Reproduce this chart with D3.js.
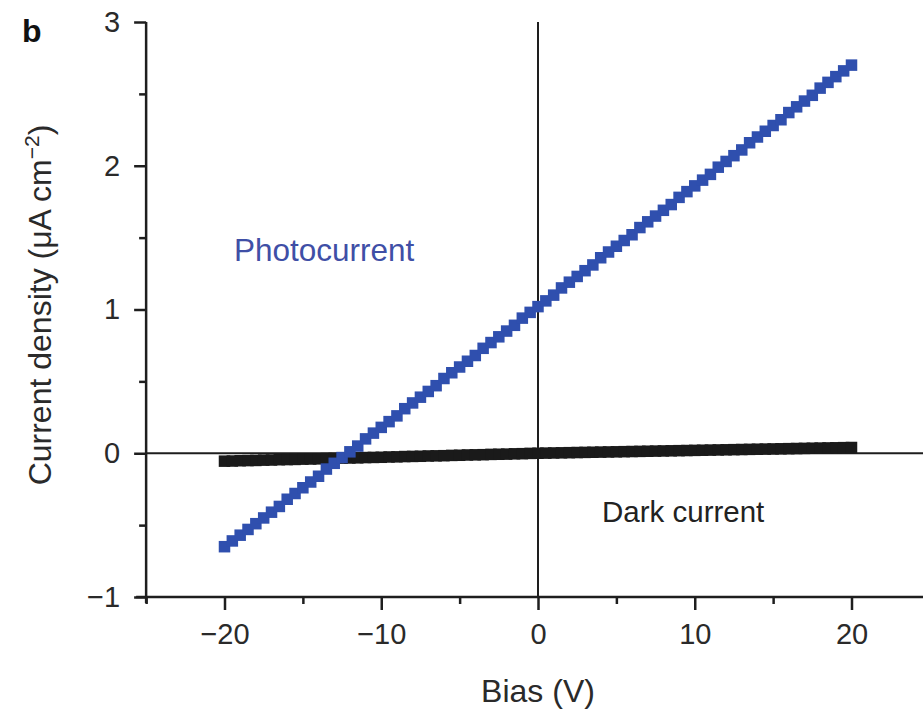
<!DOCTYPE html>
<html>
<head>
<meta charset="utf-8">
<script src="https://cdn.jsdelivr.net/npm/d3@7"></script>
<style>
  html, body { margin: 0; padding: 0; background: #fff; }
  svg { display: block; font-family: "Liberation Sans", Arial, Helvetica, sans-serif; }
</style>
</head>
<body>
<svg id="chart" width="923" height="712"></svg>
<script>
// ---- data ----
const bias = [
  -20, -19.5, -19, -18.5, -18, -17.5, -17, -16.5, -16, -15.5,
  -15, -14.5, -14, -13.5, -13, -12.5, -12, -11.5, -11, -10.5,
  -10, -9.5, -9, -8.5, -8, -7.5, -7, -6.5, -6, -5.5,
  -5, -4.5, -4, -3.5, -3, -2.5, -2, -1.5, -1, -0.5,
  0, 0.5, 1, 1.5, 2, 2.5, 3, 3.5, 4, 4.5,
  5, 5.5, 6, 6.5, 7, 7.5, 8, 8.5, 9, 9.5,
  10, 10.5, 11, 11.5, 12, 12.5, 13, 13.5, 14, 14.5,
  15, 15.5, 16, 16.5, 17, 17.5, 18, 18.5, 19, 19.5, 20
];
const photocurrent = [
  -0.65, -0.61, -0.57, -0.53, -0.49, -0.45, -0.41, -0.37, -0.32, -0.28,
  -0.24, -0.20, -0.16, -0.11, -0.07, -0.03, 0.01, 0.05, 0.10, 0.14,
  0.18, 0.22, 0.26, 0.31, 0.35, 0.39, 0.43, 0.47, 0.52, 0.56,
  0.60, 0.64, 0.68, 0.73, 0.77, 0.81, 0.85, 0.89, 0.94, 0.98,
  1.02, 1.06, 1.10, 1.15, 1.19, 1.23, 1.27, 1.31, 1.36, 1.40,
  1.44, 1.48, 1.52, 1.57, 1.61, 1.65, 1.69, 1.73, 1.78, 1.82,
  1.86, 1.90, 1.94, 1.99, 2.03, 2.07, 2.11, 2.16, 2.20, 2.24,
  2.28, 2.32, 2.37, 2.41, 2.45, 2.49, 2.54, 2.58, 2.62, 2.66, 2.70
];
const darkCurrent = [
  -0.055, -0.054, -0.052, -0.051, -0.050, -0.048, -0.047, -0.045, -0.044, -0.043,
  -0.041, -0.040, -0.039, -0.037, -0.036, -0.034, -0.033, -0.032, -0.030, -0.029,
  -0.028, -0.026, -0.025, -0.023, -0.022, -0.021, -0.019, -0.018, -0.017, -0.015,
  -0.014, -0.012, -0.011, -0.010, -0.008, -0.007, -0.006, -0.004, -0.003, -0.001,
  0.000, 0.001, 0.002, 0.003, 0.004, 0.005, 0.006, 0.007, 0.008, 0.009,
  0.010, 0.011, 0.012, 0.013, 0.014, 0.015, 0.016, 0.017, 0.018, 0.019,
  0.020, 0.021, 0.022, 0.023, 0.024, 0.025, 0.026, 0.027, 0.028, 0.029,
  0.030, 0.031, 0.032, 0.033, 0.034, 0.035, 0.036, 0.037, 0.038, 0.039, 0.040
];
const xMajorTicks = [-20, -10, 0, 10, 20];
const xMinorTicks = [-25, -15, -5, 5, 15, 25];
const yMajorTicks = [-1, 0, 1, 2, 3];
const yMinorTicks = [-0.5, 0.5, 1.5, 2.5];
const seriesLabels = ["Photocurrent", "Dark current"];

// ---- layout ----
const svg = d3.select("#chart");
const x = d3.scaleLinear().domain([-20, 20]).range([224.5, 851.5]);
const y = d3.scaleLinear().domain([-1, 3]).range([597, 22]);
const xLeft = x(-25), xRight = 923;
const axisColor = "#1e1e1e";
const blue = "#2f4fae";
const fontSize = 29;

// reference lines at zero
svg.append("line")
  .attr("x1", xLeft).attr("x2", xRight)
  .attr("y1", y(0)).attr("y2", y(0))
  .attr("stroke", axisColor).attr("stroke-width", 2);
svg.append("line")
  .attr("x1", x(0)).attr("x2", x(0))
  .attr("y1", y(3)).attr("y2", y(-1))
  .attr("stroke", axisColor).attr("stroke-width", 2);

// axes
const xAxisG = svg.append("g").attr("transform", `translate(0,${y(-1)})`);
xAxisG.call(d3.axisBottom(x).tickValues(xMajorTicks).tickSize(13).tickPadding(13)
  .tickFormat(d => d < 0 ? "\u2212" + Math.abs(d) : d));
xAxisG.select(".domain").remove();
svg.append("line")
  .attr("x1", xLeft - 10).attr("x2", xRight)
  .attr("y1", y(-1)).attr("y2", y(-1))
  .attr("stroke", axisColor).attr("stroke-width", 2.5);
const xMinorG = svg.append("g").attr("transform", `translate(0,${y(-1)})`);
xMinorG.call(d3.axisBottom(x).tickValues(xMinorTicks).tickSize(7).tickFormat(""));
xMinorG.select(".domain").remove();

const yAxisG = svg.append("g").attr("transform", `translate(${xLeft},0)`);
yAxisG.call(d3.axisLeft(y).tickValues(yMajorTicks).tickSize(12).tickPadding(14)
  .tickFormat(d => d < 0 ? "\u2212" + Math.abs(d) : d));
yAxisG.select(".domain").remove();
const yMinorG = svg.append("g").attr("transform", `translate(${xLeft},0)`);
yMinorG.call(d3.axisLeft(y).tickValues(yMinorTicks).tickSize(7).tickFormat(""));
yMinorG.select(".domain").remove();
svg.append("line")
  .attr("x1", xLeft).attr("x2", xLeft)
  .attr("y1", y(3)).attr("y2", y(-1) + 6)
  .attr("stroke", axisColor).attr("stroke-width", 2.5);

svg.selectAll(".tick line").attr("stroke", axisColor).attr("stroke-width", 2.5);
svg.selectAll(".tick text")
  .attr("fill", "#2a2a2a")
  .style("font-size", fontSize + "px")
  .style("font-family", "'Liberation Sans', Arial, sans-serif");

// data markers
const sq = 11.5;
svg.append("g").selectAll("rect")
  .data(bias.map((b, i) => [b, darkCurrent[i]]))
  .join("rect")
  .attr("x", d => x(d[0]) - sq / 2)
  .attr("y", d => y(d[1]) - sq / 2)
  .attr("width", sq).attr("height", sq)
  .attr("fill", "#1a1a1a");

svg.append("g").selectAll("rect")
  .data(bias.map((b, i) => [b, photocurrent[i]]))
  .join("rect")
  .attr("x", d => x(d[0]) - sq / 2)
  .attr("y", d => y(d[1]) - sq / 2)
  .attr("width", sq).attr("height", sq)
  .attr("fill", blue);

// labels
svg.append("text")
  .attr("x", 234).attr("y", 261)
  .attr("fill", "#3f4fa6")
  .style("font-size", "31.5px")
  .text(seriesLabels[0]);
svg.append("text")
  .attr("x", 602).attr("y", 522)
  .attr("fill", "#222")
  .style("font-size", "29.5px")
  .text(seriesLabels[1]);

svg.append("text")
  .attr("x", x(0)).attr("y", 702)
  .attr("text-anchor", "middle")
  .attr("fill", "#2a2a2a")
  .style("font-size", "32px")
  .text("Bias (V)");

const yl = svg.append("text")
  .attr("transform", `translate(51,${305}) rotate(-90)`)
  .attr("text-anchor", "middle")
  .attr("fill", "#2a2a2a")
  .style("font-size", "32px");
yl.append("tspan").text("Current density (\u03bcA cm");
yl.append("tspan").attr("dy", -12).style("font-size", "21px").text("\u22122");
yl.append("tspan").attr("dy", 12).text(")");

svg.append("text")
  .attr("x", 22).attr("y", 42)
  .attr("fill", "#111")
  .style("font-size", "32px")
  .style("font-weight", "bold")
  .text("b");
</script>
</body>
</html>
